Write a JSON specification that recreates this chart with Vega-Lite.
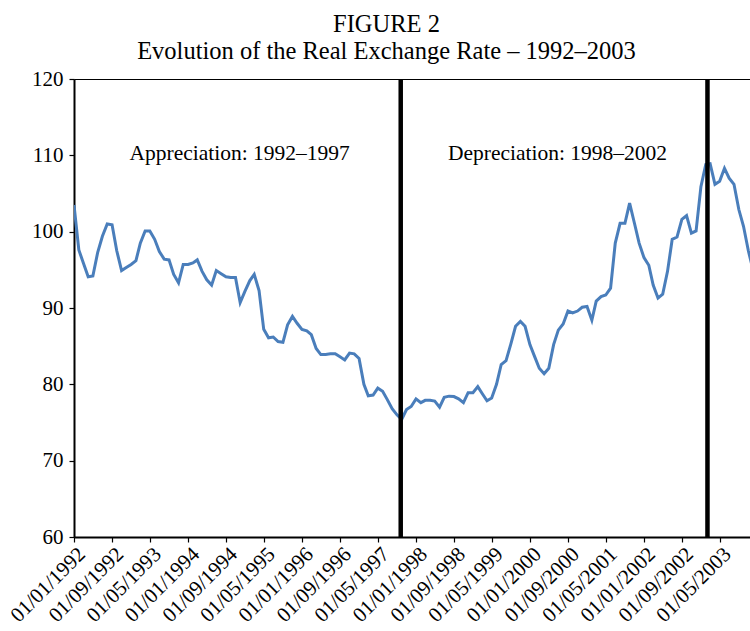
{
  "$schema": "https://vega.github.io/schema/vega-lite/v6.json",
  "width": 677,
  "height": 458,
  "autosize": {"type": "none"},
  "padding": {"left": 74, "top": 79, "right": 0, "bottom": 94},
  "background": "white",
  "config": {"view": {"stroke": "black", "strokeWidth": 1}, "font": "Liberation Serif"},
  "title": {
    "text": ["FIGURE 2", "Evolution of the Real Exchange Rate – 1992–2003"],
    "font": "Liberation Serif",
    "fontSize": 24.5,
    "fontWeight": "normal",
    "color": "black",
    "lineHeight": 27,
    "anchor": "middle",
    "dx": -26,
    "offset": 4
  },
  "datasets": {
    "rer": [
      {"date": "1992-01-01", "value": 103.5}, {"date": "1992-02-01", "value": 97.6}, {"date": "1992-03-01", "value": 95.9}, {"date": "1992-04-01", "value": 94.1},
      {"date": "1992-05-01", "value": 94.2}, {"date": "1992-06-01", "value": 97.3}, {"date": "1992-07-01", "value": 99.4}, {"date": "1992-08-01", "value": 101.0},
      {"date": "1992-09-01", "value": 100.9}, {"date": "1992-10-01", "value": 97.5}, {"date": "1992-11-01", "value": 94.9}, {"date": "1992-12-01", "value": 95.3},
      {"date": "1993-01-01", "value": 95.7}, {"date": "1993-02-01", "value": 96.2}, {"date": "1993-03-01", "value": 98.5}, {"date": "1993-04-01", "value": 100.1},
      {"date": "1993-05-01", "value": 100.1}, {"date": "1993-06-01", "value": 99.0}, {"date": "1993-07-01", "value": 97.4}, {"date": "1993-08-01", "value": 96.4},
      {"date": "1993-09-01", "value": 96.3}, {"date": "1993-10-01", "value": 94.4}, {"date": "1993-11-01", "value": 93.3}, {"date": "1993-12-01", "value": 95.7},
      {"date": "1994-01-01", "value": 95.7}, {"date": "1994-02-01", "value": 95.9}, {"date": "1994-03-01", "value": 96.3}, {"date": "1994-04-01", "value": 94.8},
      {"date": "1994-05-01", "value": 93.7}, {"date": "1994-06-01", "value": 93.0}, {"date": "1994-07-01", "value": 94.9}, {"date": "1994-08-01", "value": 94.5},
      {"date": "1994-09-01", "value": 94.1}, {"date": "1994-10-01", "value": 94.0}, {"date": "1994-11-01", "value": 94.0}, {"date": "1994-12-01", "value": 90.7},
      {"date": "1995-01-01", "value": 92.2}, {"date": "1995-02-01", "value": 93.6}, {"date": "1995-03-01", "value": 94.4}, {"date": "1995-04-01", "value": 92.3},
      {"date": "1995-05-01", "value": 87.2}, {"date": "1995-06-01", "value": 86.1}, {"date": "1995-07-01", "value": 86.2}, {"date": "1995-08-01", "value": 85.6},
      {"date": "1995-09-01", "value": 85.5}, {"date": "1995-10-01", "value": 87.8}, {"date": "1995-11-01", "value": 88.9}, {"date": "1995-12-01", "value": 88.0},
      {"date": "1996-01-01", "value": 87.2}, {"date": "1996-02-01", "value": 87.0}, {"date": "1996-03-01", "value": 86.5}, {"date": "1996-04-01", "value": 84.7},
      {"date": "1996-05-01", "value": 83.9}, {"date": "1996-06-01", "value": 83.9}, {"date": "1996-07-01", "value": 84.0}, {"date": "1996-08-01", "value": 84.0},
      {"date": "1996-09-01", "value": 83.6}, {"date": "1996-10-01", "value": 83.2}, {"date": "1996-11-01", "value": 84.1}, {"date": "1996-12-01", "value": 84.0},
      {"date": "1997-01-01", "value": 83.4}, {"date": "1997-02-01", "value": 80.0}, {"date": "1997-03-01", "value": 78.5}, {"date": "1997-04-01", "value": 78.6},
      {"date": "1997-05-01", "value": 79.5}, {"date": "1997-06-01", "value": 79.1}, {"date": "1997-07-01", "value": 78.0}, {"date": "1997-08-01", "value": 76.8},
      {"date": "1997-09-01", "value": 76.0}, {"date": "1997-10-01", "value": 75.4}, {"date": "1997-11-01", "value": 76.7}, {"date": "1997-12-01", "value": 77.1},
      {"date": "1998-01-01", "value": 78.1}, {"date": "1998-02-01", "value": 77.6}, {"date": "1998-03-01", "value": 77.9}, {"date": "1998-04-01", "value": 77.9},
      {"date": "1998-05-01", "value": 77.8}, {"date": "1998-06-01", "value": 77.0}, {"date": "1998-07-01", "value": 78.3}, {"date": "1998-08-01", "value": 78.45},
      {"date": "1998-09-01", "value": 78.4}, {"date": "1998-10-01", "value": 78.1}, {"date": "1998-11-01", "value": 77.6}, {"date": "1998-12-01", "value": 78.9},
      {"date": "1999-01-01", "value": 78.9}, {"date": "1999-02-01", "value": 79.7}, {"date": "1999-03-01", "value": 78.8}, {"date": "1999-04-01", "value": 77.85},
      {"date": "1999-05-01", "value": 78.2}, {"date": "1999-06-01", "value": 80.0}, {"date": "1999-07-01", "value": 82.6}, {"date": "1999-08-01", "value": 83.1},
      {"date": "1999-09-01", "value": 85.3}, {"date": "1999-10-01", "value": 87.6}, {"date": "1999-11-01", "value": 88.25}, {"date": "1999-12-01", "value": 87.6},
      {"date": "2000-01-01", "value": 85.2}, {"date": "2000-02-01", "value": 83.6}, {"date": "2000-03-01", "value": 82.1}, {"date": "2000-04-01", "value": 81.4},
      {"date": "2000-05-01", "value": 82.1}, {"date": "2000-06-01", "value": 85.2}, {"date": "2000-07-01", "value": 87.1}, {"date": "2000-08-01", "value": 87.9},
      {"date": "2000-09-01", "value": 89.6}, {"date": "2000-10-01", "value": 89.35}, {"date": "2000-11-01", "value": 89.6}, {"date": "2000-12-01", "value": 90.1},
      {"date": "2001-01-01", "value": 90.2}, {"date": "2001-02-01", "value": 88.4}, {"date": "2001-03-01", "value": 90.9}, {"date": "2001-04-01", "value": 91.5},
      {"date": "2001-05-01", "value": 91.7}, {"date": "2001-06-01", "value": 92.6}, {"date": "2001-07-01", "value": 98.5}, {"date": "2001-08-01", "value": 101.1},
      {"date": "2001-09-01", "value": 101.1}, {"date": "2001-10-01", "value": 103.75}, {"date": "2001-11-01", "value": 101.1}, {"date": "2001-12-01", "value": 98.5},
      {"date": "2002-01-01", "value": 96.6}, {"date": "2002-02-01", "value": 95.6}, {"date": "2002-03-01", "value": 93.0}, {"date": "2002-04-01", "value": 91.3},
      {"date": "2002-05-01", "value": 91.8}, {"date": "2002-06-01", "value": 94.8}, {"date": "2002-07-01", "value": 99.0}, {"date": "2002-08-01", "value": 99.3},
      {"date": "2002-09-01", "value": 101.6}, {"date": "2002-10-01", "value": 102.1}, {"date": "2002-11-01", "value": 99.8}, {"date": "2002-12-01", "value": 100.1},
      {"date": "2003-01-01", "value": 105.9}, {"date": "2003-02-01", "value": 108.8}, {"date": "2003-03-01", "value": 108.9}, {"date": "2003-04-01", "value": 106.2},
      {"date": "2003-05-01", "value": 106.6}, {"date": "2003-06-01", "value": 108.3}, {"date": "2003-07-01", "value": 107.0}, {"date": "2003-08-01", "value": 106.2},
      {"date": "2003-09-01", "value": 102.9}, {"date": "2003-10-01", "value": 100.7}, {"date": "2003-11-01", "value": 97.5}, {"date": "2003-12-01", "value": 95.0}
    ],
    "markers": [{"date": "1997-09-25"}, {"date": "2003-02-12"}],
    "notes": [
      {"date": "1994-11-28", "value": 109.4, "label": "Appreciation: 1992–1997"},
      {"date": "2000-06-26", "value": 109.4, "label": "Depreciation: 1998–2002"}
    ]
  },
  "encoding": {
    "x": {
      "field": "date",
      "type": "temporal",
      "title": null,
      "scale": {
        "type": "utc",
        "domain": [
          {"year": 1992, "month": 1, "date": 1, "utc": true},
          {"year": 2003, "month": 11, "date": 18, "utc": true}
        ]
      },
      "axis": {
        "values": [
          {"year": 1992, "month": 1, "date": 1, "utc": true},
          {"year": 1992, "month": 9, "date": 1, "utc": true},
          {"year": 1993, "month": 5, "date": 1, "utc": true},
          {"year": 1994, "month": 1, "date": 1, "utc": true},
          {"year": 1994, "month": 9, "date": 1, "utc": true},
          {"year": 1995, "month": 5, "date": 1, "utc": true},
          {"year": 1996, "month": 1, "date": 1, "utc": true},
          {"year": 1996, "month": 9, "date": 1, "utc": true},
          {"year": 1997, "month": 5, "date": 1, "utc": true},
          {"year": 1998, "month": 1, "date": 1, "utc": true},
          {"year": 1998, "month": 9, "date": 1, "utc": true},
          {"year": 1999, "month": 5, "date": 1, "utc": true},
          {"year": 2000, "month": 1, "date": 1, "utc": true},
          {"year": 2000, "month": 9, "date": 1, "utc": true},
          {"year": 2001, "month": 5, "date": 1, "utc": true},
          {"year": 2002, "month": 1, "date": 1, "utc": true},
          {"year": 2002, "month": 9, "date": 1, "utc": true},
          {"year": 2003, "month": 5, "date": 1, "utc": true}
        ],
        "format": "%d/%m/%Y",
        "labelAngle": -45,
        "labelAlign": "right",
        "labelBaseline": "top",
        "labelFont": "Liberation Serif",
        "labelFontSize": 21,
        "labelColor": "black",
        "labelPadding": 1,
        "labelOverlap": false,
        "labelFlush": false,
        "tickSize": 5,
        "tickColor": "black",
        "tickWidth": 1.2,
        "domainColor": "black",
        "domainWidth": 2,
        "grid": false
      }
    }
  },
  "layer": [
    {
      "data": {"name": "rer"},
      "mark": {"type": "line", "color": "#4a7ebb", "strokeWidth": 3, "clip": true},
      "encoding": {
        "y": {
          "field": "value",
          "type": "quantitative",
          "title": null,
          "scale": {"domain": [60, 120], "nice": false, "zero": false},
          "axis": {
            "values": [60, 70, 80, 90, 100, 110, 120],
            "labelFont": "Liberation Serif",
            "labelFontSize": 21,
            "labelColor": "black",
            "labelPadding": 6,
            "tickSize": 5,
            "tickColor": "black",
            "tickWidth": 1.2,
            "domainColor": "black",
            "domainWidth": 2,
            "grid": false
          }
        }
      }
    },
    {
      "data": {"name": "markers"},
      "mark": {"type": "rule", "color": "black", "strokeWidth": 4.5},
      "encoding": {}
    },
    {
      "data": {"name": "notes"},
      "mark": {"type": "text", "font": "Liberation Serif", "fontSize": 21.5, "color": "black", "align": "center", "baseline": "alphabetic"},
      "encoding": {
        "y": {"field": "value", "type": "quantitative"},
        "text": {"field": "label"}
      }
    }
  ]
}
